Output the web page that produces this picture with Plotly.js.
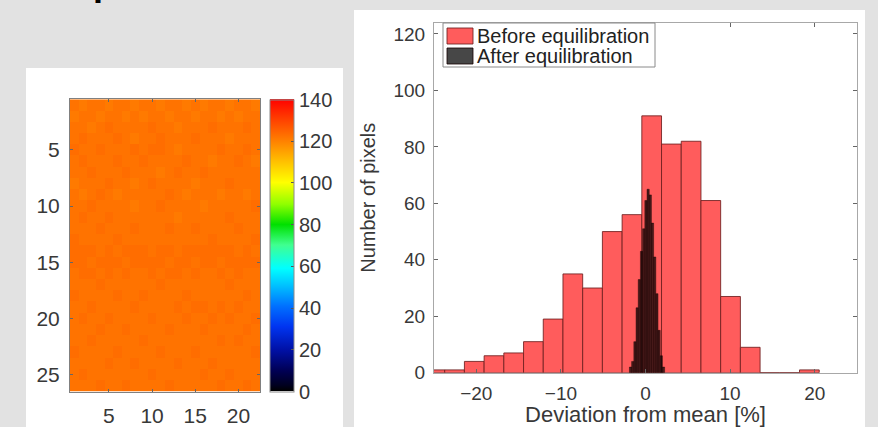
<!DOCTYPE html>
<html>
<head>
<meta charset="utf-8">
<script src="https://cdn.plot.ly/plotly-3.0.1.min.js"></script>
<style>html,body{margin:0;padding:0;background:#e2e2e2;}#chart{width:878px;height:427px;}</style>
</head>
<body>
<div id="chart"></div>
<script>
// ---- Data ----
const mapX = [1,2,3,4,5,6,7,8,9,10,11,12,13,14,15,16,17,18,19,20,21,22];
const mapY = [1,2,3,4,5,6,7,8,9,10,11,12,13,14,15,16,17,18,19,20,21,22,23,24,25,26];
const mapValues = [
[122,121,122,122,121,122,122,121,122,122,121,122,122,121,122,121,122,122,121,122,122,121],
[121,122,122,121,122,122,121,122,121,122,122,121,122,122,121,122,122,121,122,121,122,122],
[122,122,121,122,123,122,122,122,122,123,122,122,121,122,122,122,123,122,122,122,123,122],
[122,123,122,122,122,123,122,121,122,122,123,122,122,122,123,122,122,122,121,122,122,122],
[123,122,122,123,122,122,122,123,122,123,123,122,121,122,122,122,122,123,122,122,123,122],
[122,123,122,122,122,123,122,122,123,122,122,122,122,123,122,122,121,122,122,123,122,121],
[122,122,123,122,122,122,123,122,122,122,121,122,123,122,122,123,122,122,122,122,122,122],
[121,122,122,122,123,122,122,121,122,123,122,122,122,122,121,122,122,122,123,122,122,122],
[122,121,122,123,122,121,122,122,122,122,122,123,122,121,122,122,122,121,122,122,121,122],
[122,122,123,122,122,122,122,121,122,122,123,122,122,122,122,121,122,122,122,122,122,123],
[122,123,122,122,123,122,122,122,122,122,122,122,121,122,122,122,122,122,123,122,122,122],
[122,122,122,123,122,122,122,123,122,122,122,123,122,122,123,122,122,122,122,123,122,122],
[123,122,122,122,122,123,122,122,122,122,122,122,122,122,122,122,123,122,122,122,122,123],
[123,123,123,122,123,122,123,123,123,122,123,123,122,123,123,123,123,123,123,122,123,122],
[123,123,122,123,123,123,122,123,123,123,123,122,123,123,122,123,123,122,123,123,123,123],
[122,123,123,122,123,122,123,122,122,123,122,123,123,122,123,122,122,123,122,123,122,122],
[122,122,122,123,122,122,122,122,122,122,123,122,122,122,122,122,122,122,123,122,122,122],
[123,122,122,122,122,123,122,122,123,122,122,122,122,123,122,122,122,122,122,122,123,122],
[122,122,123,122,122,122,122,123,122,122,122,122,123,122,123,123,122,123,122,123,122,122],
[122,123,122,122,123,122,122,122,122,123,122,122,122,123,122,122,123,122,123,122,122,123],
[122,122,122,123,122,122,123,122,122,122,122,123,122,122,122,123,122,122,122,122,123,122],
[122,122,123,122,122,122,122,122,123,122,122,122,122,122,122,122,122,123,122,123,122,122],
[123,122,122,122,122,123,122,122,122,122,123,122,122,122,123,122,122,122,122,122,122,123],
[122,122,122,122,123,122,122,123,122,122,122,122,123,122,122,122,123,122,122,122,122,122],
[122,123,122,122,122,122,122,122,122,123,122,122,122,122,122,123,122,122,123,122,122,122],
[122,122,122,123,122,122,123,122,122,122,122,123,122,122,122,122,122,123,122,122,123,122]
];
const mapXTicks = [5,10,15,20];
const mapYTicks = [5,10,15,20,25];
const colorbarTicks = [0,20,40,60,80,100,120,140];

const beforeCenters = [-24.9,-22.57,-20.24,-17.91,-15.58,-13.25,-10.92,-8.59,-6.26,-3.93,-1.6,0.73,3.06,5.39,7.72,10.05,12.38,14.71,17.04,19.37];
const beforeCounts  = [1,1,4,6,7,11,19,35,30,50,56,91,81,82,61,27,9,0,0,1];
const afterCenters  = [-1.77,-1.51,-1.25,-0.99,-0.73,-0.47,-0.21,0.05,0.31,0.57,0.83,1.09,1.35,1.61,1.87,2.13];
const afterCounts   = [2,4,11,23,33,43,51,61,65,63,53,41,28,15,6,2];
const histXTicks = [-20,-10,0,10,20];
const histYTicks = [0,20,40,60,80,100,120];
const seriesNames = ['Before equilibration','After equilibration'];

// ---- Styles ----
const W = 878, H = 427;
const FONT = 'Liberation Sans, Arial, Helvetica, sans-serif';
const TXT = '#383838';
const px = v => v / W, py = v => 1 - v / H;
const beforeColor = '#ff5c5c';
const afterColor = 'rgba(0,0,0,0.72)';

const jetLike = [
  [0,'#000000'],[0.02,'#000020'],[0.07,'#000055'],[0.14,'#0010a5'],[0.22,'#0034f0'],
  [0.29,'#0070ff'],[0.36,'#00c0ff'],[0.42,'#00ffff'],[0.5,'#40ff90'],[0.57,'#00e000'],
  [0.64,'#90ff00'],[0.714,'#ffff00'],[0.786,'#ffc000'],[0.857,'#ff8000'],[0.93,'#ff4000'],[1,'#ff0000']
];

const traces = [
  {
    type:'heatmap', x: mapX, y: mapY, z: mapValues, xaxis:'x', yaxis:'y',
    zmin:0, zmax:140, colorscale: jetLike, showlegend:false, hoverinfo:'skip',
    colorbar:{
      x: px(270), xanchor:'left', xref:'paper', y: py(245.5), yanchor:'middle',
      len: 292, lenmode:'pixels', thickness: 24, thicknessmode:'pixels',
      outlinewidth:1, outlinecolor:'#8a8a8a', xpad:0, ypad:0,
      tickvals: colorbarTicks, ticks:'inside', ticklen:3, tickcolor:'#555',
      tickfont:{family:FONT, size:20, color:TXT}
    }
  },
  {
    type:'bar', name: seriesNames[0], x: beforeCenters, y: beforeCounts, width: 2.33,
    xaxis:'x2', yaxis:'y2', showlegend:false,
    marker:{color: beforeColor, line:{color:'rgba(110,30,30,0.85)', width:1}}
  },
  {
    type:'bar', name: seriesNames[1], x: afterCenters, y: afterCounts, width: 0.26,
    xaxis:'x2', yaxis:'y2', showlegend:false,
    marker:{color: afterColor, line:{color:'rgba(20,0,0,0.8)', width:0.5}}
  }
];

const axisCommon = {
  showgrid:false, zeroline:false, showline:true, mirror:'ticks',
  ticks:'inside', ticklen:4, tickcolor:'#666', fixedrange:true
};

// legend drawn as a boxed key (swatches + labels)
const legendShapes = [
  {type:'rect', xref:'paper', yref:'paper', x0:px(443), x1:px(655), y0:py(67), y1:py(23), fillcolor:'#ffffff', line:{color:'#8a8a8a', width:1}},
  {type:'rect', xref:'paper', yref:'paper', x0:px(447), x1:px(473), y0:py(44), y1:py(28), fillcolor:beforeColor, line:{color:'rgba(110,30,30,0.85)', width:1}},
  {type:'rect', xref:'paper', yref:'paper', x0:px(447), x1:px(473), y0:py(64), y1:py(48), fillcolor:afterColor, line:{color:'rgba(20,0,0,0.8)', width:1}}
];
const legendLabels = seriesNames.map((t, i) => ({
  text: t, xref:'paper', yref:'paper', x: px(475), y: py(36 + 20 * i), xanchor:'left', yanchor:'middle',
  showarrow:false, font:{family:FONT, size:20, color:'#222'}
}));

const layout = {
  width: W, height: H,
  margin:{l:0,r:0,t:0,b:0},
  paper_bgcolor:'#e2e2e2', plot_bgcolor:'#ffffff',
  font:{family:FONT, color:TXT},
  barmode:'overlay', bargap:0,
  showlegend:false,
  xaxis: Object.assign({}, axisCommon, {
    domain:[px(70), px(260)], anchor:'y', range:[0.5,22.5],
    tickvals: mapXTicks, linecolor:'#808080', ticklen:3,
    tickfont:{family:FONT, size:21, color:TXT}, ticklabelstandoff: 5
  }),
  yaxis: Object.assign({}, axisCommon, {
    domain:[py(391.7), py(99.3)], anchor:'x', range:[26.5,0.5],
    tickvals: mapYTicks, linecolor:'#808080', ticklen:3,
    tickfont:{family:FONT, size:21, color:TXT}, ticklabelstandoff: 5
  }),
  xaxis2: Object.assign({}, axisCommon, {
    domain:[px(434), px(857)], anchor:'y2', range:[-25,25],
    tickvals: histXTicks, linecolor:'#a8a8a8',
    tickfont:{family:FONT, size:19, color:TXT}, ticklabelstandoff: 3,
    title:{text:'Deviation from mean [%]', font:{family:FONT, size:22, color:TXT}, standoff: 4}
  }),
  yaxis2: Object.assign({}, axisCommon, {
    domain:[py(372.7), py(22.7)], anchor:'x2', range:[0,124],
    tickvals: histYTicks, linecolor:'#a8a8a8',
    tickfont:{family:FONT, size:19, color:TXT}, ticklabelstandoff: 4,
    title:{text:'Number of pixels', font:{family:FONT, size:20, color:TXT}, standoff: 12}
  }),
  shapes:[
    {type:'rect', xref:'paper', yref:'paper', x0:px(26), x1:px(343), y0:0, y1:py(68), fillcolor:'#ffffff', line:{width:0}, layer:'below'},
    {type:'rect', xref:'paper', yref:'paper', x0:px(354), x1:px(865), y0:0, y1:py(10), fillcolor:'#ffffff', line:{width:0}, layer:'below'}
  ].concat(legendShapes),
  annotations:[
    {text:'<b>p</b>', xref:'paper', yref:'paper', x:px(104), y:py(5), xanchor:'center', yanchor:'bottom',
     showarrow:false, font:{family:FONT, size:36, color:'#000'}}
  ].concat(legendLabels)
};

Plotly.newPlot('chart', traces, layout, {displayModeBar:false, staticPlot:true});
</script>
</body>
</html>
